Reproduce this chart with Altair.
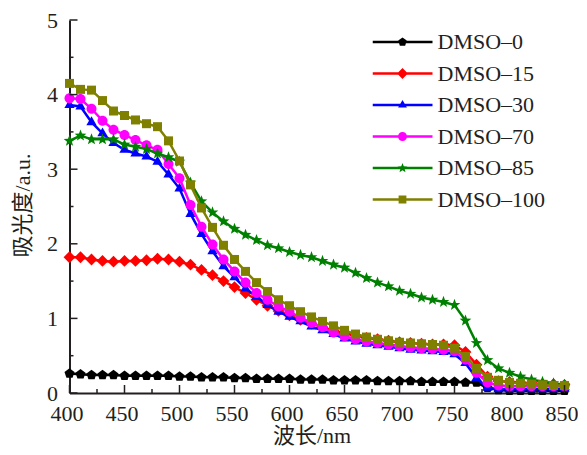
import math
import altair as alt
import pandas as pd

# ---------------- data ----------------
wavelength = [400, 410, 420, 430, 440, 450, 460, 470, 480, 490,
              500, 510, 520, 530, 540, 550, 560, 570, 580, 590,
              600, 610, 620, 630, 640, 650, 660, 670, 680, 690,
              700, 710, 720, 730, 740, 750, 760, 770, 780, 790,
              800, 810, 820, 830, 840, 850]

dmso_0 = [0.26, 0.25, 0.24, 0.24, 0.24, 0.23, 0.23, 0.23, 0.23, 0.23,
          0.22, 0.22, 0.21, 0.21, 0.21, 0.20, 0.20, 0.19, 0.19, 0.19,
          0.19, 0.18, 0.18, 0.18, 0.17, 0.17, 0.17, 0.17, 0.16, 0.16,
          0.16, 0.16, 0.15, 0.15, 0.15, 0.15, 0.14, 0.14, 0.07, 0.04,
          0.03, 0.03, 0.03, 0.03, 0.03, 0.03]

dmso_15 = [1.82, 1.82, 1.79, 1.77, 1.76, 1.77, 1.77, 1.78, 1.80, 1.79,
           1.76, 1.72, 1.65, 1.58, 1.50, 1.42, 1.34, 1.25, 1.17, 1.10,
           1.04, 0.98, 0.93, 0.88, 0.84, 0.80, 0.77, 0.74, 0.72, 0.70,
           0.68, 0.67, 0.66, 0.65, 0.65, 0.64, 0.55, 0.38, 0.22, 0.16,
           0.15, 0.14, 0.13, 0.12, 0.12, 0.11]

dmso_30 = [3.86, 3.84, 3.63, 3.48, 3.35, 3.26, 3.21, 3.17, 3.10, 2.93,
           2.74, 2.40, 2.13, 1.90, 1.70, 1.55, 1.40, 1.29, 1.18, 1.09,
           1.02, 0.96, 0.89, 0.84, 0.79, 0.73, 0.69, 0.66, 0.64, 0.62,
           0.60, 0.58, 0.57, 0.56, 0.55, 0.52, 0.40, 0.20, 0.07, 0.05,
           0.05, 0.05, 0.05, 0.05, 0.05, 0.06]

dmso_70 = [3.95, 3.94, 3.81, 3.65, 3.53, 3.46, 3.39, 3.32, 3.26, 3.07,
           2.88, 2.52, 2.23, 1.99, 1.79, 1.63, 1.48, 1.34, 1.25, 1.16,
           1.09, 1.01, 0.94, 0.88, 0.81, 0.76, 0.72, 0.69, 0.67, 0.65,
           0.63, 0.61, 0.60, 0.59, 0.58, 0.56, 0.45, 0.27, 0.14, 0.10,
           0.09, 0.09, 0.09, 0.09, 0.09, 0.09]

dmso_85 = [3.38, 3.45, 3.40, 3.40, 3.40, 3.33, 3.30, 3.27, 3.21, 3.16,
           3.10, 2.82, 2.57, 2.42, 2.30, 2.20, 2.12, 2.05, 1.98, 1.94,
           1.89, 1.85, 1.82, 1.77, 1.72, 1.68, 1.61, 1.54, 1.48, 1.43,
           1.37, 1.33, 1.28, 1.25, 1.22, 1.18, 0.97, 0.67, 0.44, 0.33,
           0.27, 0.22, 0.18, 0.15, 0.13, 0.11]

dmso_100 = [4.15, 4.07, 4.06, 3.92, 3.78, 3.72, 3.66, 3.61, 3.57, 3.38,
            3.11, 2.79, 2.48, 2.22, 1.98, 1.79, 1.63, 1.48, 1.36, 1.25,
            1.17, 1.09, 1.02, 0.96, 0.90, 0.84, 0.79, 0.75, 0.72, 0.70,
            0.68, 0.67, 0.66, 0.65, 0.64, 0.60, 0.49, 0.33, 0.21, 0.17,
            0.14, 0.13, 0.12, 0.11, 0.10, 0.10]

series_names = ["DMSO–0", "DMSO–15", "DMSO–30", "DMSO–70", "DMSO–85", "DMSO–100"]
series_values = [dmso_0, dmso_15, dmso_30, dmso_70, dmso_85, dmso_100]

x_labels = [400, 450, 500, 550, 600, 650, 700, 750, 800, 850]
x_minor = [425, 475, 525, 575, 625, 675, 725, 775, 825]
y_labels = [0, 1, 2, 3, 4, 5]
y_minor = [0.5, 1.5, 2.5, 3.5, 4.5]

# ---------------- styles ----------------
colors = ["#000000", "#ff0000", "#0000ff", "#ff00ff", "#008000", "#808000"]
AXIS_COLOR = "#231f20"
SERIF = "Liberation Serif"
TITLE_FONT = "'Liberation Serif', 'Noto Sans CJK SC'"
W, H = 495, 373


def polygon(pts, k=1.0):
    return "M" + " L".join(f"{x * k:.4f},{y * k:.4f}" for x, y in pts) + " Z"


def circle_path(k=1.0):
    return f"M{-k:.4f},0 A{k:.4f},{k:.4f} 0 1 1 {k:.4f},0 A{k:.4f},{k:.4f} 0 1 1 {-k:.4f},0 Z"


pentagon = [(math.cos(math.radians(-90 + 72 * i)), math.sin(math.radians(-90 + 72 * i))) for i in range(5)]
star = []
for i in range(10):
    r = 1.0 if i % 2 == 0 else 0.42
    a = math.radians(-90 + 36 * i)
    star.append((r * math.cos(a), r * math.sin(a)))
diamond = [(0, -1), (1, 0), (0, 1), (-1, 0)]
triangle = [(0, -1), (0.866, 0.5), (-0.866, 0.5)]
square = [(-1, -1), (1, -1), (1, 1), (-1, 1)]

marker_paths = [polygon(pentagon), polygon(diamond), polygon(triangle),
                circle_path(), polygon(star), polygon(square)]
marker_sizes = [110, 140, 140, 100, 150, 81]

# legend symbols: line segment + marker, unit box scaled by sqrt(3600)/2 = 30 px
t = 0.042
line_rect = f"M-1,{-t} L1,{-t} L1,{t} L-1,{t} Z"
legend_paths = [
    line_rect + " " + polygon(pentagon, 0.15),
    line_rect + " " + polygon(diamond, 0.18),
    line_rect + " " + polygon(triangle, 0.17),
    line_rect + " " + circle_path(0.15),
    line_rect + " " + polygon(star, 0.17),
    line_rect + " " + polygon(square, 0.13),
]

xs = alt.Scale(domain=[400, 850], nice=False, zero=False)
ys = alt.Scale(domain=[0, 5], nice=False, zero=False)

x_axis = alt.Axis(values=x_labels, title="波长/nm", grid=False, ticks=False, tickSize=0,
                  labelFlush=False, labelOverlap=False, labelPadding=10, labelOffset=-3,
                  titleX=242, titleY=32)
y_axis = alt.Axis(values=y_labels, title="吸光度/a.u.", grid=False, ticks=False, tickSize=0,
                  labelFlush=False, labelOverlap=False, labelPadding=12,
                  titleX=-35, titleY=185)

X = alt.X("wl:Q", scale=xs, axis=x_axis)
Y = alt.Y("A:Q", scale=ys, axis=y_axis)

layers = []
for name, vals, color, path, size in zip(series_names, series_values, colors, marker_paths, marker_sizes):
    df = pd.DataFrame({"wl": wavelength, "A": vals, "series": name})
    base = alt.Chart(df).encode(x=X, y=Y)
    layers.append(base.mark_line(color=color, strokeWidth=2.5))
    layers.append(base.mark_point(shape=path, filled=True, size=size, color=color,
                                  opacity=1, strokeWidth=0))


# inward tick marks (same fields / axes as the data layers so the axes merge)
def x_ticks(vals, length):
    return alt.Chart(pd.DataFrame({"wl": vals})).mark_rule(color=AXIS_COLOR, strokeWidth=1.5).encode(
        x=X, y=alt.value(H), y2=alt.value(H - length))


def y_ticks(vals, length):
    return alt.Chart(pd.DataFrame({"A": vals})).mark_rule(color=AXIS_COLOR, strokeWidth=1.5).encode(
        y=Y, x=alt.value(0), x2=alt.value(length))


layers += [x_ticks(x_labels, 8), x_ticks(x_minor, 4), y_ticks(y_labels, 8), y_ticks(y_minor, 4)]

leg = alt.Legend(title=None, orient="none", legendX=303, legendY=11, symbolSize=3600,
                 clipHeight=22, rowPadding=9.5, labelOffset=5, labelFont=SERIF,
                 labelFontSize=22, labelColor=AXIS_COLOR, padding=0, symbolStrokeWidth=0,
                 symbolOpacity=1, labelLimit=0)

legend_layer = alt.Chart(pd.DataFrame({"series": series_names})).mark_point(
    filled=True, opacity=1
).encode(
    color=alt.Color("series:N", scale=alt.Scale(domain=series_names, range=colors), legend=leg),
    shape=alt.Shape("series:N", scale=alt.Scale(domain=series_names, range=legend_paths), legend=leg),
).transform_filter("false")

layers.append(legend_layer)

chart = alt.layer(*layers).properties(
    width=W, height=H,
    padding={"left": 61.5, "top": 12, "right": 13.5, "bottom": 54},
    autosize=alt.AutoSizeParams(type="none"),
    background="white",
).configure_view(strokeWidth=0).configure_axis(
    domainColor=AXIS_COLOR, domainWidth=2,
    labelFont=SERIF, labelFontSize=22, labelColor=AXIS_COLOR,
    titleFont=TITLE_FONT, titleFontSize=22, titleFontWeight="normal", titleColor=AXIS_COLOR,
)

chart.save("out.html", embed_options={"renderer": "svg", "actions": False})
